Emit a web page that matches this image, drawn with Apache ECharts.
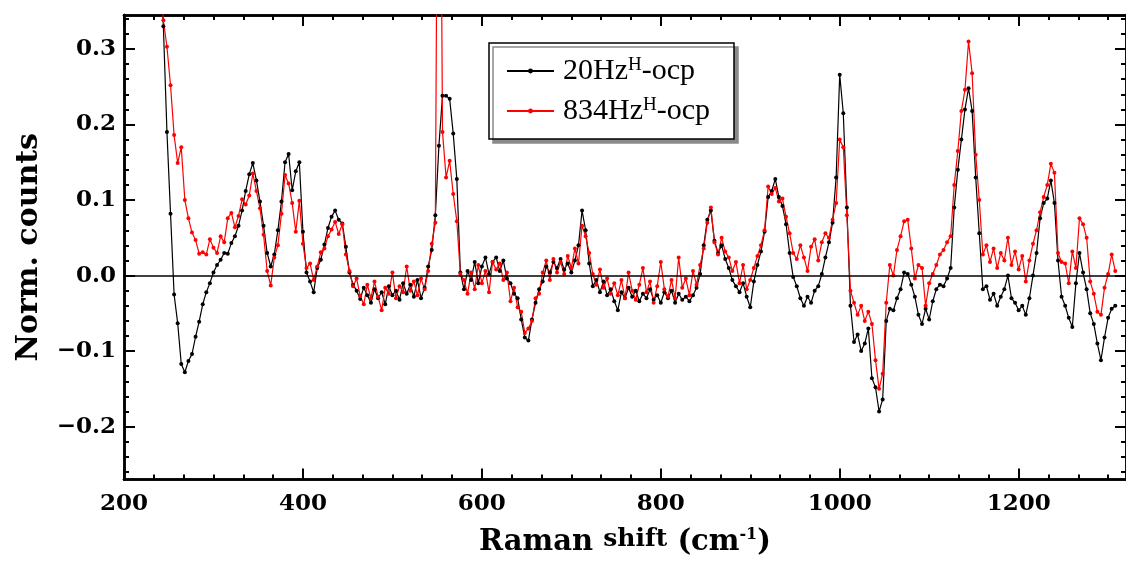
<!DOCTYPE html>
<html>
<head>
<meta charset="utf-8">
<title>Raman spectra</title>
<script src="https://cdn.jsdelivr.net/npm/echarts@6.0.0/dist/echarts.min.js"></script>
<style>
  html, body { margin: 0; padding: 0; background: #fff; }
  #chart { width: 1126px; height: 562px; }
</style>
</head>
<body>
<div id="chart"></div>
<script>
// Raman shift grid (cm^-1)
const shift = [
  240,
  244, 248, 252, 256, 260, 264, 268, 272, 276, 280,
  284, 288, 292, 296, 300, 304, 308, 312, 316, 320,
  324, 328, 332, 336, 340, 344, 348, 352, 356, 360,
  364, 368, 372, 376, 380, 384, 388, 392, 396, 400,
  404, 408, 412, 416, 420, 424, 428, 432, 436, 440,
  444, 448, 452, 456, 460, 464, 468, 472, 476, 480,
  484, 488, 492, 496, 500, 504, 508, 512, 516, 520,
  524, 528, 532, 536, 540, 544, 548, 552, 556, 560,
  564, 568, 572, 576, 580, 584, 588, 592, 596, 600,
  604, 608, 612, 616, 620, 624, 628, 632, 636, 640,
  644, 648, 652, 656, 660, 664, 668, 672, 676, 680,
  684, 688, 692, 696, 700, 704, 708, 712, 716, 720,
  724, 728, 732, 736, 740, 744, 748, 752, 756, 760,
  764, 768, 772, 776, 780, 784, 788, 792, 796, 800,
  804, 808, 812, 816, 820, 824, 828, 832, 836, 840,
  844, 848, 852, 856, 860, 864, 868, 872, 876, 880,
  884, 888, 892, 896, 900, 904, 908, 912, 916, 920,
  924, 928, 932, 936, 940, 944, 948, 952, 956, 960,
  964, 968, 972, 976, 980, 984, 988, 992, 996, 1000,
  1004, 1008, 1012, 1016, 1020, 1024, 1028, 1032, 1036, 1040,
  1044, 1048, 1052, 1056, 1060, 1064, 1068, 1072, 1076, 1080,
  1084, 1088, 1092, 1096, 1100, 1104, 1108, 1112, 1116, 1120,
  1124, 1128, 1132, 1136, 1140, 1144, 1148, 1152, 1156, 1160,
  1164, 1168, 1172, 1176, 1180, 1184, 1188, 1192, 1196, 1200,
  1204, 1208, 1212, 1216, 1220, 1224, 1228, 1232, 1236, 1240,
  1244, 1248, 1252, 1256, 1260, 1264, 1268, 1272, 1276, 1280,
  1284, 1288, 1292, 1296, 1300, 1304, 1308
];

// Normalised counts, 20 Hz (H) at open-circuit potential
const counts20Hz = [
  0.420,
  0.330, 0.190, 0.082, -0.025, -0.063, -0.117, -0.128, -0.113, -0.104, -0.081,
  -0.061, -0.038, -0.022, -0.010, 0.004, 0.014, 0.021, 0.030, 0.029, 0.043,
  0.052, 0.066, 0.086, 0.112, 0.134, 0.149, 0.126, 0.098, 0.066, 0.030,
  0.012, 0.028, 0.060, 0.098, 0.150, 0.161, 0.113, 0.138, 0.150, 0.058,
  0.004, -0.008, -0.022, 0.010, 0.021, 0.041, 0.063, 0.078, 0.086, 0.074,
  0.069, 0.038, 0.004, -0.012, -0.020, -0.031, -0.016, -0.026, -0.036, -0.018,
  -0.030, -0.022, -0.038, -0.014, -0.026, -0.020, -0.032, -0.010, -0.024, -0.012,
  -0.028, -0.006, -0.030, -0.016, 0.012, 0.034, 0.080, 0.172, 0.238, 0.238,
  0.234, 0.188, 0.128, 0.004, -0.018, 0.006, -0.006, 0.018, -0.010, 0.012,
  0.024, 0.002, 0.018, 0.024, 0.006, 0.020, -0.004, -0.010, -0.024, -0.030,
  -0.058, -0.082, -0.086, -0.058, -0.036, -0.018, -0.008, 0.012, 0.004, 0.018,
  0.010, 0.022, 0.008, 0.016, 0.004, 0.020, 0.040, 0.086, 0.060, 0.016,
  -0.014, -0.006, -0.022, -0.008, -0.026, -0.018, -0.034, -0.046, -0.022, -0.030,
  -0.016, -0.028, -0.020, -0.034, -0.024, -0.030, -0.018, -0.032, -0.026, -0.036,
  -0.022, -0.030, -0.020, -0.036, -0.024, -0.032, -0.028, -0.034, -0.026, -0.016,
  0.002, 0.040, 0.074, 0.086, 0.046, 0.030, 0.040, 0.022, 0.010, -0.006,
  -0.014, -0.022, -0.010, -0.028, -0.042, -0.008, 0.014, 0.032, 0.058, 0.104,
  0.112, 0.128, 0.104, 0.092, 0.068, 0.030, -0.002, -0.014, -0.030, -0.040,
  -0.028, -0.036, -0.020, -0.014, 0.002, 0.024, 0.044, 0.070, 0.130, 0.266,
  0.215, 0.090, -0.040, -0.088, -0.078, -0.100, -0.090, -0.070, -0.136, -0.148,
  -0.180, -0.164, -0.060, -0.044, -0.046, -0.030, -0.018, 0.004, 0.002, -0.012,
  -0.028, -0.052, -0.064, -0.044, -0.058, -0.034, -0.018, -0.012, -0.014, -0.004,
  0.010, 0.090, 0.140, 0.180, 0.220, 0.248, 0.218, 0.130, 0.056, -0.018,
  -0.014, -0.032, -0.024, -0.040, -0.028, -0.018, 0.000, -0.030, -0.036, -0.046,
  -0.040, -0.052, -0.030, 0.000, 0.030, 0.076, 0.096, 0.102, 0.126, 0.096,
  0.020, -0.028, -0.040, -0.056, -0.068, -0.010, 0.030, 0.004, -0.018, -0.050,
  -0.064, -0.090, -0.112, -0.082, -0.056, -0.044, -0.040
];

// Normalised counts, 834 Hz (H) at open-circuit potential
const counts834Hz = [
  0.400,
  0.338, 0.303, 0.252, 0.186, 0.149, 0.170, 0.100, 0.076, 0.057, 0.047,
  0.029, 0.031, 0.028, 0.048, 0.037, 0.030, 0.052, 0.044, 0.076, 0.083,
  0.064, 0.079, 0.101, 0.094, 0.106, 0.135, 0.112, 0.089, 0.054, 0.006,
  -0.013, 0.024, 0.040, 0.082, 0.133, 0.122, 0.096, 0.058, 0.099, 0.042,
  0.010, 0.016, -0.006, 0.012, 0.031, 0.036, 0.052, 0.061, 0.071, 0.055,
  0.068, 0.028, 0.006, -0.014, -0.004, -0.027, -0.038, -0.012, -0.030, -0.008,
  -0.028, -0.046, -0.016, -0.024, 0.004, -0.030, -0.014, -0.022, 0.012, -0.020,
  -0.008, -0.026, -0.004, -0.018, 0.006, 0.042, 0.070, 0.950, 0.190, 0.130,
  0.152, 0.108, 0.072, 0.002, -0.006, -0.024, 0.004, -0.018, 0.014, -0.010,
  0.006, -0.022, 0.018, 0.008, 0.016, -0.006, 0.004, -0.034, -0.016, -0.042,
  -0.048, -0.076, -0.070, -0.060, -0.030, -0.024, 0.004, 0.020, -0.006, 0.022,
  0.004, 0.018, 0.002, 0.026, 0.010, 0.036, 0.016, 0.066, 0.052, 0.030,
  0.002, -0.012, 0.008, -0.016, -0.004, -0.024, -0.010, -0.026, -0.006, -0.030,
  0.004, -0.020, -0.032, -0.012, 0.010, -0.022, -0.008, -0.036, -0.014, 0.018,
  -0.018, -0.028, -0.006, -0.030, 0.024, -0.016, -0.004, -0.026, 0.006, -0.012,
  0.014, 0.036, 0.070, 0.090, 0.044, 0.028, 0.050, 0.032, 0.024, 0.006,
  0.018, -0.010, 0.014, -0.018, -0.006, 0.010, 0.026, 0.040, 0.060, 0.118,
  0.108, 0.116, 0.098, 0.102, 0.078, 0.056, 0.030, 0.022, 0.040, 0.024,
  0.006, 0.038, 0.048, 0.020, 0.044, 0.056, 0.050, 0.074, 0.096, 0.180,
  0.170, 0.080, -0.020, -0.036, -0.052, -0.040, -0.060, -0.048, -0.064, -0.112,
  -0.150, -0.130, -0.036, 0.014, 0.000, 0.034, 0.052, 0.072, 0.074, 0.036,
  -0.004, 0.014, 0.010, -0.040, -0.010, 0.002, 0.014, 0.028, 0.034, 0.044,
  0.052, 0.120, 0.165, 0.218, 0.246, 0.310, 0.268, 0.160, 0.100, 0.028,
  0.040, 0.018, 0.036, 0.010, 0.030, 0.020, 0.050, 0.014, 0.032, 0.008,
  0.026, -0.008, 0.020, 0.042, 0.060, 0.084, 0.104, 0.120, 0.148, 0.136,
  0.030, 0.018, 0.016, -0.010, 0.032, 0.010, 0.076, 0.068, 0.050, -0.008,
  -0.024, -0.048, -0.052, -0.016, 0.002, 0.028, 0.006
];

const seriesNames = ['20Hz^H-ocp', '834Hz^H-ocp'];

// Axis ranges and tick values
const xRange = [200, 1320];
const yRange = [-0.27, 0.345];
const xMajorTicks = [200, 400, 600, 800, 1000, 1200];
const yMajorTicks = [-0.2, -0.1, 0.0, 0.1, 0.2, 0.3];

const xMinorTicks = [];
for (let i = 0; i <= 33; i++) xMinorTicks.push(200 + i * 200 / 6);
const yMinorTicks = [];
for (let i = -13; i <= 17; i++) yMinorTicks.push(i * 0.02);

const BOLD = { fontFamily: 'DejaVu Serif', fontWeight: 'bold', color: '#000' };
const AXIS_LINE = { show: true, onZero: false, lineStyle: { color: '#000', width: 2.5 } };

function xAxisOf(position, ticks, len, withLabels) {
  return {
    type: 'value', position: position, min: xRange[0], max: xRange[1],
    axisLine: AXIS_LINE,
    axisTick: { show: true, inside: true, length: len, customValues: ticks,
                lineStyle: { color: '#000', width: 2 } },
    axisLabel: withLabels
      ? Object.assign({ show: true, customValues: xMajorTicks, margin: 13, fontSize: 23,
                        formatter: v => String(Math.round(v)) }, BOLD)
      : { show: false },
    splitLine: { show: false }
  };
}

function yAxisOf(position, ticks, len, withLabels) {
  return {
    type: 'value', position: position, min: yRange[0], max: yRange[1],
    axisLine: AXIS_LINE,
    axisTick: { show: true, inside: true, length: len, customValues: ticks,
                lineStyle: { color: '#000', width: 2 } },
    axisLabel: withLabels
      ? Object.assign({
          show: true, customValues: yMajorTicks, margin: 8, fontSize: 23,
          formatter: v => (v < -1e-9 ? '\u2212' : '') + Math.abs(v).toFixed(1)
        }, BOLD)
      : { show: false },
    splitLine: { show: false }
  };
}

const xMain = xAxisOf('bottom', xMajorTicks, 11, true);
xMain.name = '{b|Raman} {s|shift} {b|(cm}{sup|-1}{b|)}';
xMain.nameLocation = 'middle';
xMain.nameGap = 47;
xMain.nameTextStyle = Object.assign({
  fontSize: 29,
  rich: {
    b: Object.assign({ fontSize: 29 }, BOLD),
    s: Object.assign({ fontSize: 25, padding: [0, 0, 7, 0] }, BOLD),
    sup: Object.assign({ fontSize: 16, padding: [0, 0, 15, 0] }, BOLD)
  }
}, BOLD);

const yMain = yAxisOf('left', yMajorTicks, 11, true);
yMain.name = 'Norm. counts';
yMain.nameLocation = 'middle';
yMain.nameRotate = 90;
yMain.nameGap = 80;
yMain.nameTextStyle = Object.assign({ fontSize: 30 }, BOLD);

function pairs(ys) { return shift.map((x, i) => [x, ys[i]]); }

function lineSeries(name, ys, color, extra) {
  return Object.assign({
    name: name, type: 'line', xAxisIndex: 0, yAxisIndex: 0,
    data: pairs(ys), clip: true,
    symbol: 'circle', symbolSize: 4, showSymbol: true,
    lineStyle: { color: color, width: 1.2 },
    itemStyle: { color: color },
    emphasis: { disabled: true },
    animation: false
  }, extra || {});
}

const chart = echarts.init(document.getElementById('chart'), null, { renderer: 'canvas' });
chart.setOption({
  backgroundColor: '#fff',
  animation: false,
  grid: { left: 124, top: 15, right: -8, bottom: 81, containLabel: false },
  xAxis: [
    xMain,
    xAxisOf('bottom', xMinorTicks, 5, false),
    xAxisOf('top', xMajorTicks, 11, false),
    xAxisOf('top', xMinorTicks, 5, false)
  ],
  yAxis: [
    yMain,
    yAxisOf('left', yMinorTicks, 5, false),
    yAxisOf('right', yMajorTicks, 11, false),
    yAxisOf('right', yMinorTicks, 5, false)
  ],
  legend: {
    data: seriesNames,
    orient: 'vertical',
    left: 489, top: 43,
    padding: [12, 24, 12, 17],
    itemGap: 8,
    itemWidth: 47,
    itemHeight: 6,
    backgroundColor: '#fff',
    borderColor: '#000',
    borderWidth: 1.5,
    borderRadius: 0,
    shadowColor: '#8a8a8a',
    shadowBlur: 0,
    shadowOffsetX: 4,
    shadowOffsetY: 4,
    selectedMode: false,
    formatter: n => n.replace('^H', '{sup|H}'),
    textStyle: {
      fontFamily: 'Liberation Serif', fontSize: 30, color: '#000', lineHeight: 32,
      padding: [0, 0, 0, 4],
      rich: {
        sup: { fontFamily: 'Liberation Serif', fontSize: 19, color: '#000', padding: [0, 0, 12, 0] }
      }
    }
  },
  series: [
    lineSeries(seriesNames[0], counts20Hz, '#000000', {
      markLine: {
        silent: true, symbol: ['none', 'none'], label: { show: false },
        lineStyle: { color: '#000', width: 1.5, type: 'solid' },
        data: [{ yAxis: 0 }], animation: false
      }
    }),
    lineSeries(seriesNames[1], counts834Hz, '#ff0000')
  ]
});
</script>
</body>
</html>
